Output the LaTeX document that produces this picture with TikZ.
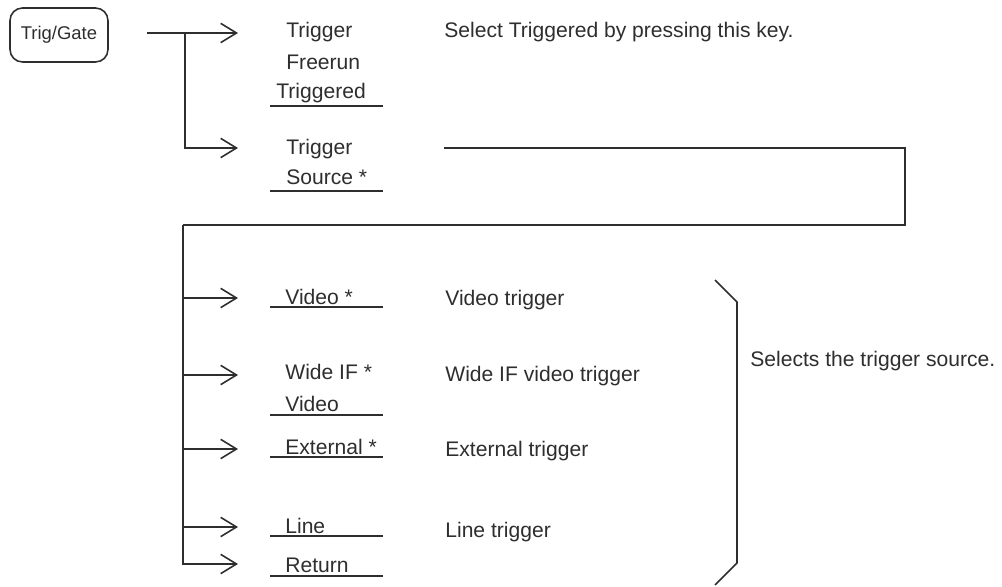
\documentclass[tikz,border=0pt]{standalone}
\usepackage{fontspec}
\setmainfont{Liberation Sans}
\usetikzlibrary{arrows.meta}
\definecolor{ink}{HTML}{2E2E2E}
\tikzset{
  menu/.style={anchor=base west, inner sep=0pt, text=ink,
    font=\fontsize{12}{14}\selectfont},
  keybox/.style={draw=ink, line width=0.9pt, rounded corners=0.25cm,
    minimum width=1.96cm, minimum height=1.08cm, text=ink,
    font=\fontsize{10.5}{12}\selectfont},
  conn/.style={draw=ink, line width=0.9pt},
  tip/.style={conn, -{Straight Barb[length=9pt,width=11pt,line width=0.9pt]}},
  uline/.style={draw=ink, line width=0.9pt},
}
\begin{document}
\begin{tikzpicture}[x=0.02cm,y=-0.02cm]
  \useasboundingbox (0,0) rectangle (1002,587);

  % Taste und erste Ebene.
  \node[keybox] (trig) at (59,35) {Trig/Gate};
  \coordinate (start) at (147,33);
  \coordinate (fork) at (185,33);
  \coordinate (a1) at (238,33);
  \coordinate (a2) at (238,148);
  \draw[tip] (start) -- (a1);
  \draw[tip] (fork) |- (a2);

  \node[menu] (trigA) at (286,38) {Trigger};
  \node[menu] (free) at (286,70) {Freerun};
  \node[menu] (trgd) at (276,99) {Triggered};
  \draw[uline] (270,106) -- (383,106);
  \node[menu] (select) at (444,38) {Select Triggered by pressing this key.};

  \node[menu] (srcA) at (286,155) {Trigger};
  \node[menu] (srcB) at (286,185) {Source *};
  \draw[uline] (270,191) -- (383,191);

  % Verbindung zur zweiten Ebene.
  \coordinate (src) at (444,148);
  \coordinate (drop) at (905,225);
  \coordinate (trunk) at (183,225);
  \coordinate (r5) at (238,564);
  \draw[conn] (src) -| (drop) -- (trunk);
  \draw[tip] (trunk) |- (r5);
  \foreach \y in {298,375,449,527}
    \draw[tip] (183,\y) -- (238,\y);

  % Zweite Ebene.
  \node[menu] (video) at (285,305) {Video *};
  \draw[uline] (270,307) -- (383,307);
  \node[menu] (wideA) at (285,380) {Wide IF *};
  \node[menu] (wideB) at (285,412) {Video};
  \draw[uline] (270,415) -- (383,415);
  \node[menu] (ext) at (285,455) {External *};
  \draw[uline] (270,457) -- (383,457);
  \node[menu] (line) at (285,534) {Line};
  \draw[uline] (270,536) -- (383,536);
  \node[menu] (ret) at (285,573) {Return};
  \draw[uline] (270,576) -- (383,576);

  \node[menu] (dvideo) at (445,306) {Video trigger};
  \node[menu] (dwide) at (445,382) {Wide IF video trigger};
  \node[menu] (dext) at (445,457) {External trigger};
  \node[menu] (dline) at (445,538) {Line trigger};

  % Klammer.
  \draw[conn] (715,280) -- (737,302) -- (737,563) -- (715,585);
  \node[menu] (sel) at (750,367) {Selects the trigger source.};
\end{tikzpicture}
\end{document}
